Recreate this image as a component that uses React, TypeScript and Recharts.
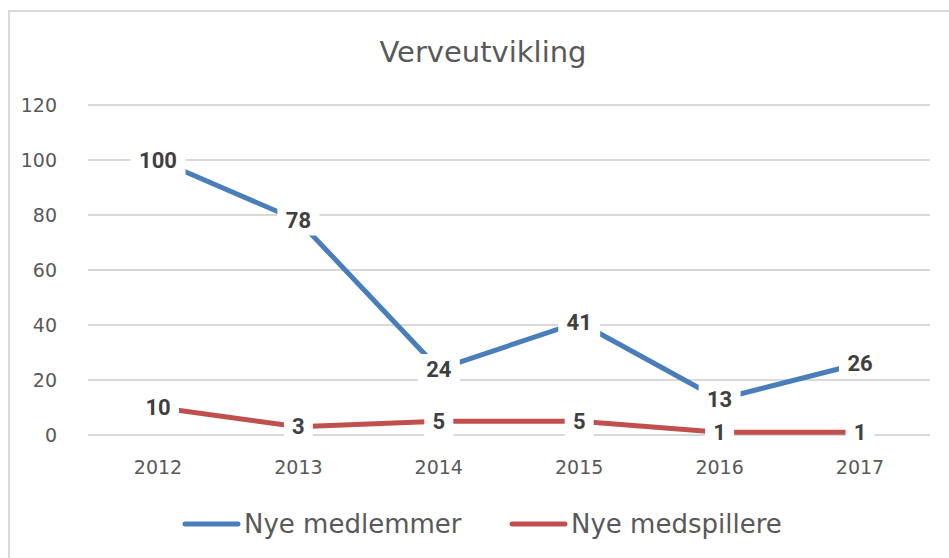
import React from 'react';
import { LineChart, Line, XAxis, YAxis, CartesianGrid, LabelList } from 'recharts';

const years = ['2012', '2013', '2014', '2015', '2016', '2017'];
const nyeMedlemmer = [100, 78, 24, 41, 13, 26];
const nyeMedspillere = [10, 3, 5, 5, 1, 1];
const yTicks = [0, 20, 40, 60, 80, 100, 120];

const BLUE = '#4A7EBB';
const RED = '#C0504D';
const FONT = '"DejaVu Sans", sans-serif';

const data = years.map((year, i) => ({
  year,
  medlemmer: nyeMedlemmer[i],
  medspillere: nyeMedspillere[i],
}));

// Excel-style centered data label with a white box behind it
const BoxLabel = (props: any) => {
  const { x, y, value } = props;
  const text = String(value);
  const w = text.length * 13 + 16;
  const h = 30;
  return (
    <g>
      <rect x={x - w / 2} y={y - h / 2} width={w} height={h} fill="#ffffff" />
      <text
        x={x}
        y={y}
        textAnchor="middle"
        dominantBaseline="central"
        fontFamily="Roboto, sans-serif"
        fontWeight={700}
        fontSize={22}
        fill="#404040"
      >
        {text}
      </text>
    </g>
  );
};

const legendItems = [
  { name: 'Nye medlemmer', color: BLUE, x: 183 },
  { name: 'Nye medspillere', color: RED, x: 510 },
];

export default function App() {
  return (
    <div style={{ position: 'absolute', left: 0, top: 0, width: 949, height: 558, background: '#fff' }}>
      <div
        style={{
          position: 'absolute',
          left: 8,
          top: 10,
          width: 960,
          height: 560,
          borderLeft: '2px solid #d9d9d9',
          borderTop: '2px solid #d9d9d9',
          boxSizing: 'border-box',
        }}
      />
      <svg width={949} height={558} style={{ position: 'absolute', left: 0, top: 0 }}>
        <text
          x={483}
          y={52}
          textAnchor="middle"
          dominantBaseline="central"
          fontFamily={FONT}
          fontSize={29}
          fill="#595959"
        >
          Verveutvikling
        </text>
        {legendItems.map((item) => (
          <g key={item.name}>
            <line
              x1={item.x + 2}
              x2={item.x + 55}
              y1={524}
              y2={524}
              stroke={item.color}
              strokeWidth={5}
              strokeLinecap="round"
            />
            <text
              x={item.x + 61}
              y={524}
              dominantBaseline="central"
              fontFamily={FONT}
              fontSize={26}
              fill="#595959"
            >
              {item.name}
            </text>
          </g>
        ))}
      </svg>
      <div style={{ position: 'absolute', left: 0, top: 0 }}>
        <LineChart
          width={949}
          height={558}
          data={data}
          margin={{ top: 105, right: 19, left: 0, bottom: 93 }}
        >
          <CartesianGrid vertical={false} stroke="#d9d9d9" strokeWidth={2} />
          <XAxis
            dataKey="year"
            axisLine={false}
            tickLine={false}
            padding={{ left: 70, right: 70 }}
            tick={{ fill: '#595959', fontSize: 19, fontFamily: FONT }}
            tickMargin={20}
          />
          <YAxis
            domain={[0, 120]}
            ticks={yTicks}
            width={88}
            axisLine={false}
            tickLine={false}
            tick={{ fill: '#595959', fontSize: 19, fontFamily: FONT }}
            tickMargin={25}
          />
          <Line
            dataKey="medlemmer"
            stroke={BLUE}
            strokeWidth={5}
            dot={false}
            isAnimationActive={false}
          >
            <LabelList dataKey="medlemmer" content={<BoxLabel />} />
          </Line>
          <Line
            dataKey="medspillere"
            stroke={RED}
            strokeWidth={5}
            dot={false}
            isAnimationActive={false}
          >
            <LabelList dataKey="medspillere" content={<BoxLabel />} />
          </Line>
        </LineChart>
      </div>
    </div>
  );
}
